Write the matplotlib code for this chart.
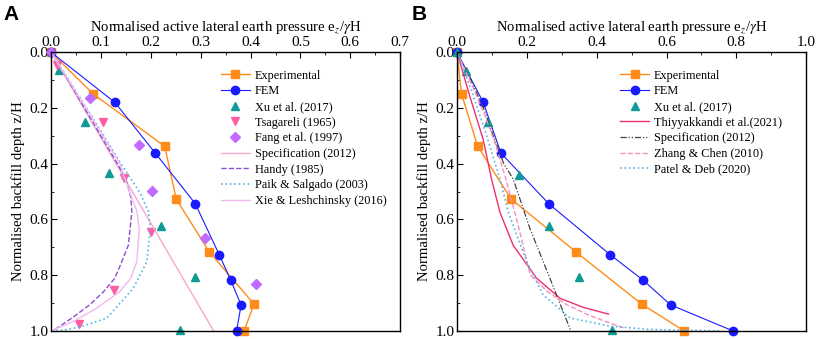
import numpy as np
import matplotlib.pyplot as plt
from matplotlib.ticker import MultipleLocator

plt.rcParams['font.family'] = ['Liberation Serif', 'DejaVu Serif']
plt.rcParams['mathtext.fontset'] = 'stix'

# ---- panel A data (x = e_z/gammaH, y = z/H) ----
a_exp_x = [0.0, 0.084, 0.228, 0.251, 0.317, 0.407, 0.387]
a_exp_y = [0.0, 0.149, 0.338, 0.527, 0.716, 0.904, 1.0]
a_fem_x = [0.0, 0.128, 0.209, 0.289, 0.337, 0.360, 0.381, 0.372]
a_fem_y = [0.0, 0.180, 0.362, 0.543, 0.726, 0.817, 0.907, 1.0]
a_xu_x = [0.017, 0.068, 0.117, 0.221, 0.289, 0.258]
a_xu_y = [0.064, 0.252, 0.434, 0.622, 0.807, 0.998]
a_tsa_x = [0.013, 0.105, 0.146, 0.200, 0.126, 0.057]
a_tsa_y = [0.045, 0.252, 0.450, 0.645, 0.853, 0.975]
a_fang_x = [0.0, 0.078, 0.177, 0.203, 0.309, 0.410]
a_fang_y = [0.0, 0.166, 0.332, 0.498, 0.665, 0.832]
a_spec_x = [0.0, 0.326]
a_spec_y = [0.0, 1.0]
a_handy_x = [0.0, 0.034, 0.067, 0.100, 0.133, 0.150, 0.160, 0.162, 0.155, 0.140, 0.128, 0.105, 0.078, 0.045, 0.004]
a_handy_y = [0.0, 0.1, 0.2, 0.3, 0.4, 0.455, 0.52, 0.574, 0.693, 0.76, 0.811, 0.86, 0.906, 0.95, 1.0]
a_paik_x = [0.0, 0.036, 0.071, 0.106, 0.140, 0.178, 0.195, 0.199, 0.192, 0.165, 0.112, 0.060, 0.025, 0.0]
a_paik_y = [0.0, 0.1, 0.2, 0.3, 0.4, 0.503, 0.57, 0.633, 0.752, 0.847, 0.954, 0.985, 0.998, 1.0]
a_xie_x = [0.0, 0.035, 0.070, 0.104, 0.138, 0.158, 0.172, 0.177, 0.172, 0.160, 0.138, 0.090, 0.045, 0.0]
a_xie_y = [0.0, 0.1, 0.2, 0.3, 0.4, 0.503, 0.57, 0.633, 0.752, 0.81, 0.859, 0.92, 0.966, 1.0]

# ---- panel B data ----
b_exp_x = [0.0, 0.013, 0.059, 0.155, 0.340, 0.529, 0.650]
b_exp_y = [0.0, 0.149, 0.337, 0.527, 0.716, 0.904, 1.0]
b_fem_x = [0.0, 0.075, 0.126, 0.263, 0.438, 0.532, 0.612, 0.790]
b_fem_y = [0.0, 0.179, 0.362, 0.544, 0.726, 0.817, 0.907, 1.0]
b_xu_x = [0.0, 0.025, 0.088, 0.178, 0.264, 0.350, 0.443]
b_xu_y = [0.0, 0.066, 0.249, 0.440, 0.625, 0.808, 0.996]
b_thi_x = [0.0, 0.037, 0.075, 0.099, 0.123, 0.161, 0.228, 0.295, 0.360, 0.434]
b_thi_y = [0.0, 0.159, 0.313, 0.455, 0.574, 0.693, 0.811, 0.883, 0.915, 0.940]
b_spec_x = [0.0, 0.040, 0.076, 0.104, 0.134, 0.161, 0.209, 0.266, 0.326]
b_spec_y = [0.0, 0.1, 0.2, 0.3, 0.4, 0.455, 0.633, 0.811, 1.0]
b_zhang_x = [0.0, 0.040, 0.078, 0.110, 0.140, 0.175, 0.210, 0.260, 0.314, 0.380, 0.438, 0.480]
b_zhang_y = [0.0, 0.110, 0.220, 0.330, 0.455, 0.620, 0.800, 0.860, 0.906, 0.945, 0.972, 0.99]
b_patel_x = [0.0, 0.045, 0.085, 0.123, 0.147, 0.200, 0.247, 0.324, 0.438, 0.553, 0.750]
b_patel_y = [0.0, 0.150, 0.300, 0.455, 0.574, 0.752, 0.871, 0.954, 0.983, 0.995, 1.0]

orange = '#ff8c1a'
blue = '#1a1aff'
teal = '#0f9a96'
pink_tri = '#ff5fa2'
violet = '#c06aff'

fig = plt.figure(figsize=(8.16, 3.39), dpi=100)
axA = fig.add_axes([0.0625, 0.024, 0.428, 0.822])
axB = fig.add_axes([0.560, 0.024, 0.428, 0.822])


def style_axis(ax, xmax, xstep):
    ax.set_xlim(0, xmax)
    ax.set_ylim(1.0, 0.0)
    ax.xaxis.tick_top()
    ax.xaxis.set_label_position('top')
    ax.xaxis.set_major_locator(MultipleLocator(xstep))
    ax.xaxis.set_minor_locator(MultipleLocator(xstep / 2))
    ax.yaxis.set_major_locator(MultipleLocator(0.2))
    ax.yaxis.set_minor_locator(MultipleLocator(0.1))
    ax.tick_params(which='both', direction='in', labelsize=11, pad=2)
    ax.tick_params(which='major', length=4)
    ax.tick_params(which='minor', length=2.5)
    ax.xaxis.set_major_formatter(plt.FuncFormatter(lambda v, p: '%.1f' % v))
    ax.yaxis.set_major_formatter(plt.FuncFormatter(lambda v, p: '%.1f' % v))
    for s in ax.spines.values():
        s.set_linewidth(1.0)
    ax.set_xlabel(r'Normalised active lateral earth pressure e$_z$/$\gamma$H', fontsize=10.6, labelpad=4)
    ax.set_ylabel('Normalised backfill depth z/H', fontsize=10.6, labelpad=3)


legend_kw = dict(loc='upper right', frameon=False, fontsize=8.8, handlelength=2.4,
                 handletextpad=0.4, labelspacing=0.3, borderaxespad=0)

# panel A
axA.plot(a_exp_x, a_exp_y, '-s', color=orange, lw=1, ms=6, clip_on=False, label='Experimental')
axA.plot(a_fem_x, a_fem_y, '-o', color=blue, lw=0.8, ms=6, clip_on=False, label='FEM')
axA.plot(a_xu_x, a_xu_y, '^', color=teal, ms=6, ls='none', clip_on=False, label='Xu et al. (2017)')
axA.plot(a_tsa_x, a_tsa_y, 'v', color=pink_tri, ms=6, ls='none', clip_on=False, label='Tsagareli (1965)')
axA.plot(a_fang_x, a_fang_y, 'D', color=violet, ms=5, ls='none', clip_on=False, label='Fang et al. (1997)')
axA.plot(a_spec_x, a_spec_y, '-', color='#f7a8cf', lw=1, label='Specification (2012)')
axA.plot(a_handy_x, a_handy_y, '--', color='#8a4fd0', lw=1, label='Handy (1985)')
axA.plot(a_paik_x, a_paik_y, ':', color='#4fb6e8', lw=1.2, label='Paik & Salgado (2003)')
axA.plot(a_xie_x, a_xie_y, '-', color='#f2b8f0', lw=1, label='Xie & Leshchinsky (2016)')
style_axis(axA, 0.7, 0.1)
axA.legend(bbox_to_anchor=(0.975, 0.955), **legend_kw)
fig.text(0.004, 0.985, 'A', fontsize=15, fontweight='bold', family='Liberation Sans', va='top')

# panel B
axB.plot(b_exp_x, b_exp_y, '-s', color=orange, lw=1, ms=6, clip_on=False, label='Experimental')
axB.plot(b_fem_x, b_fem_y, '-o', color=blue, lw=0.8, ms=6, clip_on=False, label='FEM')
axB.plot(b_xu_x, b_xu_y, '^', color=teal, ms=6, ls='none', clip_on=False, label='Xu et al. (2017)')
axB.plot(b_thi_x, b_thi_y, '-', color='#f0306e', lw=1, label='Thiyyakkandi et al.(2021)')
axB.plot(b_spec_x, b_spec_y, '-.', color='#444444', lw=0.9, dashes=(5, 1.5, 1, 1.5, 1, 1.5), label='Specification (2012)')
axB.plot(b_zhang_x, b_zhang_y, '--', color='#f590c0', lw=1, label='Zhang & Chen (2010)')
axB.plot(b_patel_x, b_patel_y, ':', color='#5ab4ec', lw=1.2, label='Patel & Deb (2020)')
style_axis(axB, 1.0, 0.2)
axB.legend(bbox_to_anchor=(0.945, 0.955), **legend_kw)
fig.text(0.505, 0.985, 'B', fontsize=15, fontweight='bold', family='Liberation Sans', va='top')

fig.savefig('out.png', dpi=100)
